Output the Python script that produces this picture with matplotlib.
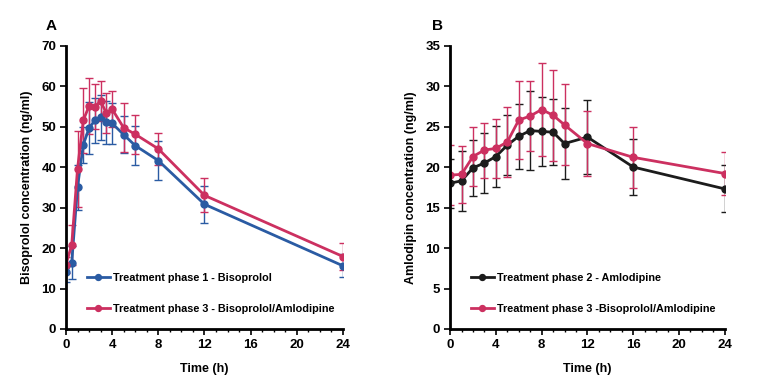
import matplotlib
matplotlib.use("Agg")
import matplotlib.pyplot as plt
from matplotlib.ticker import MultipleLocator

plt.rcParams['font.family'] = ['Liberation Sans', 'DejaVu Sans']

# panel A - bisoprolol
t_a = [0, 0.5, 1, 1.5, 2, 2.5, 3, 3.5, 4, 5, 6, 8, 12, 24]
biso_p1 = [14.0, 16.4, 35.0, 45.5, 49.6, 51.5, 52.3, 51.1, 50.8, 48.0, 45.3, 41.6, 30.8, 15.6]
biso_p1_sd = [2.5, 4.0, 5.5, 4.5, 6.5, 5.5, 5.5, 5.3, 5.0, 4.5, 4.8, 4.8, 4.5, 2.8]
biso_p3 = [15.9, 20.8, 39.5, 51.5, 55.1, 54.9, 56.3, 53.3, 54.3, 49.7, 48.1, 44.5, 33.0, 17.9]
biso_p3_sd = [2.0, 5.0, 9.3, 8.0, 7.0, 5.5, 5.0, 5.0, 4.5, 6.0, 4.8, 4.0, 4.2, 3.3]

# panel B - amlodipine
t_b = [0, 1, 2, 3, 4, 5, 6, 7, 8, 9, 10, 12, 16, 24]
amlo_p2 = [18.0, 18.3, 19.9, 20.5, 21.3, 22.7, 23.8, 24.5, 24.4, 24.3, 22.9, 23.7, 20.0, 17.3]
amlo_p2_sd = [3.0, 3.7, 3.5, 3.7, 3.8, 3.7, 4.0, 4.9, 4.3, 4.1, 4.4, 4.6, 3.5, 2.9]
amlo_p3 = [19.0, 19.1, 21.3, 22.1, 22.3, 23.1, 25.8, 26.3, 27.1, 26.4, 25.2, 22.9, 21.2, 19.2]
amlo_p3_sd = [3.7, 3.5, 3.7, 3.4, 3.6, 4.3, 4.8, 4.3, 5.7, 5.6, 5.0, 4.0, 3.8, 2.7]

blue = '#2a5ba3'
red = '#cc3060'
black = '#1c1c1c'

fig = plt.figure(figsize=(7.76, 3.83), dpi=100)
axA = fig.add_axes([0.085, 0.141, 0.357, 0.740])
axB = fig.add_axes([0.580, 0.141, 0.354, 0.740])


def draw(ax, x, y, sd, color, label):
    ax.errorbar(x, y, yerr=sd, color=color, lw=2, marker='o', ms=5,
                elinewidth=1, capsize=3, capthick=1, label=label)


def style(ax, ymax, ystep, ylabel, letter, lx):
    ax.set_xlim(0, 24)
    ax.set_ylim(0, ymax)
    ax.xaxis.set_major_locator(MultipleLocator(4))
    ax.xaxis.set_minor_locator(MultipleLocator(1))
    ax.yaxis.set_major_locator(MultipleLocator(ystep))
    ax.spines['top'].set_visible(False)
    ax.spines['right'].set_visible(False)
    ax.spines['left'].set_linewidth(2)
    ax.spines['bottom'].set_linewidth(2)
    ax.tick_params(axis='both', which='major', length=4, width=1.2,
                   labelsize=9.5, pad=3)
    ax.tick_params(axis='x', which='minor', length=2.5, width=1)
    for lbl in ax.get_xticklabels() + ax.get_yticklabels():
        lbl.set_fontweight('bold')
    ax.set_xlabel('Time (h)', fontsize=9, fontweight='bold', labelpad=9)
    ax.set_ylabel(ylabel, fontsize=9, fontweight='bold', labelpad=6)
    ax.text(lx, 1.045, letter, transform=ax.transAxes, fontsize=11,
            fontweight='bold', ha='left', va='bottom')


draw(axA, t_a, biso_p1, biso_p1_sd, blue, 'Treatment phase 1 - Bisoprolol')
draw(axA, t_a, biso_p3, biso_p3_sd, red, 'Treatment phase 3 - Bisoprolol/Amlodipine')
style(axA, 70, 10, 'Bisoprolol concentration (ng/ml)', 'A', -0.075)

draw(axB, t_b, amlo_p2, amlo_p2_sd, black, 'Treatment phase 2 - Amlodipine')
draw(axB, t_b, amlo_p3, amlo_p3_sd, red, 'Treatment phase 3 -Bisoprolol/Amlodipine')
style(axB, 35, 5, 'Amlodipin concentration (ng/ml)', 'B', -0.065)

for ax in (axA, axB):
    handles, labels = ax.get_legend_handles_labels()
    ax.legend([h[0] for h in handles], labels, loc='lower left',
              bbox_to_anchor=(0.04, 0.02), frameon=False,
              labelspacing=1.9, handlelength=2.1, handletextpad=0.35,
              markerscale=0.85, prop={'size': 7.8, 'weight': 'bold'})

fig.savefig('out.png', dpi=100, facecolor='white')
